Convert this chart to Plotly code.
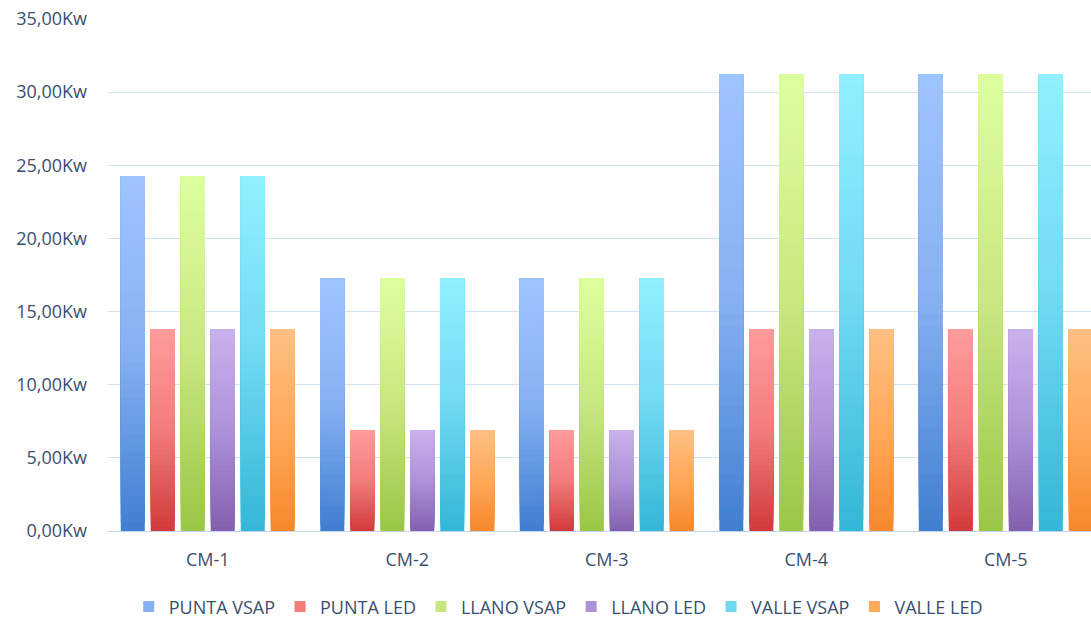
import plotly.graph_objects as go

# Power per lighting circuit and tariff period
categories = ["CM-1", "CM-2", "CM-3", "CM-4", "CM-5"]
series_names = ["PUNTA VSAP", "PUNTA LED", "LLANO VSAP", "LLANO LED", "VALLE VSAP", "VALLE LED"]
vsap_kw = [24.25, 17.25, 17.25, 31.2, 31.2]
led_kw = [13.8, 6.9, 6.9, 13.8, 13.8]
series_values = [vsap_kw, led_kw, vsap_kw, led_kw, vsap_kw, led_kw]

tick_vals = [0, 5, 10, 15, 20, 25, 30, 35]
tick_text = ["0,00Kw", "5,00Kw", "10,00Kw", "15,00Kw", "20,00Kw", "25,00Kw", "30,00Kw", "35,00Kw"]

# gradient stops per series: bottom, middle, top
gradients = [
    ("#3f7ecf", "#86b0f2", "#9fc4ff"),
    ("#d23a3a", "#f27c7c", "#ff9c9c"),
    ("#9ac645", "#c8e780", "#ddff9d"),
    ("#8260ae", "#ad92d9", "#c9b2ec"),
    ("#33b6d6", "#70d9f2", "#92f0ff"),
    ("#f6882a", "#ffa95a", "#ffc084"),
]

TEXT = "#3A4F70"
FONT = "Open Sans"
FONT_SIZE = 18
N_STEPS = 40


def hex_rgb(h):
    h = h.lstrip("#")
    return tuple(int(h[i:i + 2], 16) for i in (0, 2, 4))


def blend(stops, t):
    lo, mid, hi = (hex_rgb(s) for s in stops)
    if t <= 0.5:
        a, b, f = lo, mid, t / 0.5
    else:
        a, b, f = mid, hi, (t - 0.5) / 0.5
    c = [round(a[i] + (b[i] - a[i]) * f) for i in range(3)]
    return "rgb({},{},{})".format(*c)


fig = go.Figure()

for name, vals, stops in zip(series_names, series_values, gradients):
    # overlapping bars, each starting a step higher, build a vertical gradient
    for k in range(N_STEPS):
        frac = k / N_STEPS
        fig.add_trace(go.Bar(
            x=categories,
            y=[v * (1 - frac) for v in vals],
            base=[v * frac for v in vals],
            offsetgroup=name,
            marker=dict(color=blend(stops, (k + 0.5) / N_STEPS), line=dict(width=0)),
            showlegend=False,
            hoverinfo="skip",
        ))
    # legend swatch
    fig.add_trace(go.Scatter(
        x=[None], y=[None], mode="markers", name=name,
        marker=dict(symbol="square", size=11, color=stops[1]),
    ))

label_font = dict(family=FONT, size=FONT_SIZE, color=TEXT)

fig.update_layout(
    width=1091,
    height=619,
    margin=dict(l=108, r=0, t=19, b=88, autoexpand=False),
    paper_bgcolor="white",
    plot_bgcolor="white",
    barmode="group",
    bargap=0.098,
    bargroupgap=0.2,
    font=label_font,
    showlegend=True,
    legend=dict(
        orientation="h",
        x=0.458, xanchor="center",
        y=-0.148, yanchor="middle",
        font=label_font,
        itemwidth=30,
        traceorder="normal",
    ),
    xaxis=dict(
        type="category",
        range=[-0.5, 4.427],
        showgrid=False,
        showline=True,
        linecolor="#c3d3ee",
        linewidth=1,
        ticks="",
        ticklabelstandoff=12,
        tickfont=label_font,
    ),
    yaxis=dict(
        range=[0, 35],
        tickvals=tick_vals,
        ticktext=tick_text,
        showgrid=True,
        gridcolor="#d5dff2",
        gridwidth=1,
        zeroline=False,
        ticks="",
        ticklabelstandoff=20,
        tickfont=label_font,
    ),
)

fig.write_html("out.html")
